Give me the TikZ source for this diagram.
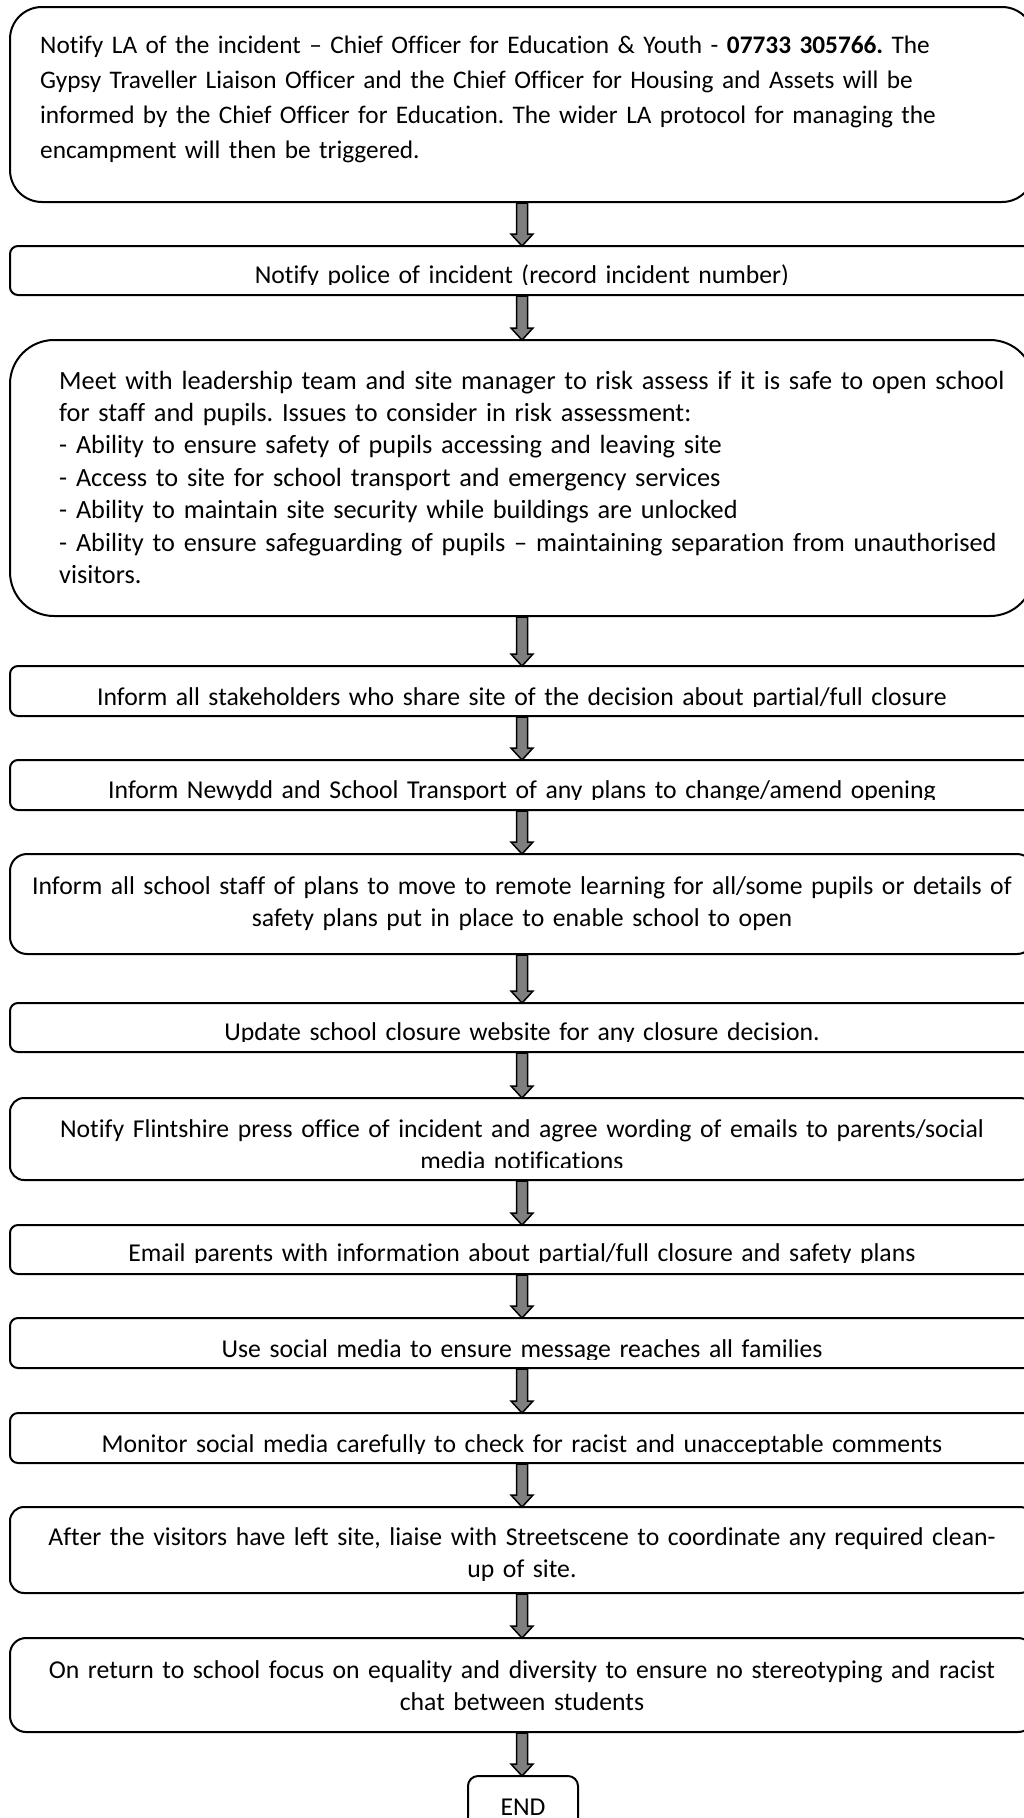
\documentclass[tikz,border=0pt]{standalone}
\usepackage{fontspec}
\setmainfont{Carlito}[Ligatures=NoCommon]
\frenchspacing
\usepackage{tikz}
\usetikzlibrary{calc}
\definecolor{arrowgray}{HTML}{7F7F7F}
% block arrow from the lower edge of one box to the top of the next
\newcommand{\flowarrow}[2]{%
	\draw[arrowbody] let \p1=(#1.south), \p2=(#2.north) in
	(\x1-5.5pt,\y1-1pt) -- (\x1-5.5pt,\y2+12pt) -- (\x1-11pt,\y2+12pt) -- (\x1,\y2)
	-- (\x1+11pt,\y2+12pt) -- (\x1+5.5pt,\y2+12pt) -- (\x1+5.5pt,\y1-1pt) -- cycle;}

\begin{document}
\begin{tikzpicture}[x=1pt, y=-1pt,
	stepbox/.style={draw, line width=2pt, fill=white, inner sep=0pt, outer sep=0pt,
		minimum width=1024pt, anchor=north},
	steptext/.style={inner sep=0pt, text width=1000pt, align=center, anchor=base,
		font=\fontsize{25.7}{32.6}\selectfont},
	arrowbody/.style={draw=black, line width=1.5pt, fill=arrowgray, line join=miter}]
	\useasboundingbox (0,0) rectangle (1024,1818);
	% notify LA
	\node[stepbox, minimum height=195pt, rounded corners=32pt] (notifyla) at (522,7) {};
	\node[steptext, text width=980pt, align=left, anchor=base west,
		font=\fontsize{25.3}{35}\selectfont] (notifyla-txt) at (40,53)
		{Notify LA of the incident – Chief Officer for Education \& Youth - \textbf{07733 305766.} The\\
		Gypsy Traveller Liaison Officer and the Chief Officer for Housing and Assets will be\\
		informed by the Chief Officer for Education. The wider LA protocol for managing the\\
		encampment will then be triggered.};
	% police
	\node[stepbox, minimum height=49pt, rounded corners=8pt] (police) at (522,246) {};
	\begin{scope}
		\clip (police.north west) rectangle ([yshift=11pt]police.south east);
		\node[steptext] (police-txt) at (522,283) {Notify police of incident (record incident number)};
	\end{scope}
	% risk assessment
	\node[stepbox, minimum height=276pt, rounded corners=44pt] (risk) at (522,340) {};
	\node[steptext, text width=970pt, align=left, anchor=base west,
		font=\fontsize{26.3}{32.4}\selectfont] (risk-txt) at (59,389)
		{Meet with leadership team and site manager to risk assess if it is safe to open school\\
		for staff and pupils. Issues to consider in risk assessment:\\
		- Ability to ensure safety of pupils accessing and leaving site\\
		- Access to site for school transport and emergency services\\
		- Ability to maintain site security while buildings are unlocked\\
		- Ability to ensure safeguarding of pupils – maintaining separation from unauthorised\\
		visitors.};
	% stakeholders
	\node[stepbox, minimum height=50pt, rounded corners=8pt] (stake) at (522,666) {};
	\begin{scope}
		\clip (stake.north west) rectangle ([yshift=10pt]stake.south east);
		\node[steptext] (stake-txt) at (522,705) {Inform all stakeholders who share site of the decision about partial/full closure};
	\end{scope}
	% transport
	\node[stepbox, minimum height=50pt, rounded corners=8pt] (transport) at (522,760) {};
	\begin{scope}
		\clip (transport.north west) rectangle ([yshift=11pt]transport.south east);
		\node[steptext] (transport-txt) at (522,798) {Inform Newydd and School Transport of any plans to change/amend opening};
	\end{scope}
	% staff
	\node[stepbox, minimum height=100pt, rounded corners=17pt] (staff) at (522,854) {};
	\node[steptext] (staff-txt) at (522,894)
		{Inform all school staff of plans to move to remote learning for all/some pupils or details of\\
		safety plans put in place to enable school to open};
	% website
	\node[stepbox, minimum height=49pt, rounded corners=8pt] (website) at (522,1003) {};
	\begin{scope}
		\clip (website.north west) rectangle ([yshift=11pt]website.south east);
		\node[steptext] (website-txt) at (522,1040) {Update school closure website for any closure decision.};
	\end{scope}
	% press office
	\node[stepbox, minimum height=82pt, rounded corners=14pt] (press) at (522,1098) {};
	\begin{scope}
		\clip (press.north west) rectangle ([yshift=13pt]press.south east);
		\node[steptext] (press-txt) at (522,1137)
			{Notify Flintshire press office of incident and agree wording of emails to parents/social\\
			media notifications};
	\end{scope}
	% email parents
	\node[stepbox, minimum height=49pt, rounded corners=8pt] (email) at (522,1225) {};
	\begin{scope}
		\clip (email.north west) rectangle ([yshift=12pt]email.south east);
		\node[steptext] (email-txt) at (522,1261) {Email parents with information about partial/full closure and safety plans};
	\end{scope}
	% social media
	\node[stepbox, minimum height=50pt, rounded corners=8pt] (social) at (522,1318) {};
	\begin{scope}
		\clip (social.north west) rectangle ([yshift=9pt]social.south east);
		\node[steptext] (social-txt) at (522,1357) {Use social media to ensure message reaches all families};
	\end{scope}
	% monitor
	\node[stepbox, minimum height=50pt, rounded corners=8pt] (monitor) at (522,1413) {};
	\begin{scope}
		\clip (monitor.north west) rectangle ([yshift=10pt]monitor.south east);
		\node[steptext] (monitor-txt) at (522,1452) {Monitor social media carefully to check for racist and unacceptable comments};
	\end{scope}
	% clean-up
	\node[stepbox, minimum height=86pt, rounded corners=14pt] (cleanup) at (522,1507) {};
	\begin{scope}
		\clip (cleanup.north west) rectangle ([yshift=13pt]cleanup.south east);
		\node[steptext] (cleanup-txt) at (522,1545)
			{After the visitors have left site, liaise with Streetscene to coordinate any required clean-\\
			up of site.};
	\end{scope}
	% return to school
	\node[stepbox, minimum height=94pt, rounded corners=16pt] (return) at (522,1638) {};
	\node[steptext] (return-txt) at (522,1678)
		{On return to school focus on equality and diversity to ensure no stereotyping and racist\\
		chat between students};
	% end
	\node[stepbox, minimum width=110pt, minimum height=60pt, rounded corners=10pt] (end) at (523,1776) {};
	\node[steptext, text width=100pt] (end-txt) at (523,1815) {END};
	% arrows
	\flowarrow{notifyla}{police}
	\flowarrow{police}{risk}
	\flowarrow{risk}{stake}
	\flowarrow{stake}{transport}
	\flowarrow{transport}{staff}
	\flowarrow{staff}{website}
	\flowarrow{website}{press}
	\flowarrow{press}{email}
	\flowarrow{email}{social}
	\flowarrow{social}{monitor}
	\flowarrow{monitor}{cleanup}
	\flowarrow{cleanup}{return}
	\flowarrow{return}{end}
\end{tikzpicture}
\end{document}
